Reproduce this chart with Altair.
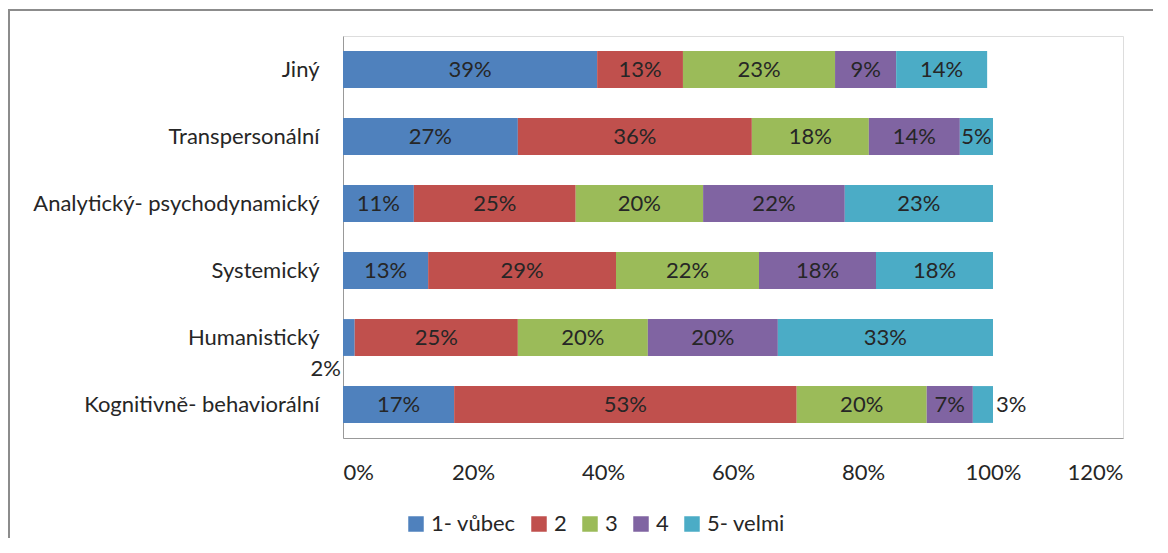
import altair as alt
import pandas as pd

categories = ["Jiný", "Transpersonální", "Analytický- psychodynamický",
              "Systemický", "Humanistický", "Kognitivně- behaviorální"]
series = ["1- vůbec", "2", "3", "4", "5- velmi"]
colors = ["#4F81BD", "#C0504D", "#9BBB59", "#8064A2", "#4BACC6"]

# values per series (percent), one entry per category in the order above
s1 = [39.1, 26.9, 10.9, 13.1, 1.8, 17.1]
s2 = [13.2, 36.0, 24.9, 28.9, 25.1, 52.7]
s3 = [23.4, 18.0, 19.6, 22.0, 20.0, 20.0]
s4 = [9.4, 14.0, 21.8, 18.0, 20.0, 7.1]
s5 = [14.0, 5.1, 22.8, 18.0, 33.1, 3.1]
labels = [
    ["39%", "27%", "11%", "13%", "2%", "17%"],
    ["13%", "36%", "25%", "29%", "25%", "53%"],
    ["23%", "18%", "20%", "22%", "20%", "20%"],
    ["9%", "14%", "22%", "18%", "20%", "7%"],
    ["14%", "5%", "23%", "18%", "33%", "3%"],
]
xticks = [0, 20, 40, 60, 80, 100, 120]

rows = []
allvals = [s1, s2, s3, s4, s5]
for ci, cat in enumerate(categories):
    start = 0.0
    for si, name in enumerate(series):
        v = allvals[si][ci]
        rows.append({
            "cat": cat, "series": name, "order": si,
            "start": start / 100, "end": (start + v) / 100,
            "mid": (start + v / 2) / 100, "label": labels[si][ci],
            "special": (cat == "Humanistický" and si == 0) or (cat == "Kognitivně- behaviorální" and si == 4),
        })
        start += v
df = pd.DataFrame(rows)

FONT = "Lato"
TXT = "#262626"
FS = 22

x_scale = alt.Scale(domain=[0, 1.2], nice=False, zero=True)
y_enc = alt.Y("cat:N", sort=categories, title=None,
              scale=alt.Scale(paddingInner=0.45, paddingOuter=0.225),
              axis=alt.Axis(labelFont=FONT, labelFontSize=FS, labelColor=TXT,
                            labelPadding=24, ticks=False, domainColor="#999999",
                            labelLimit=400))

base = alt.Chart(df)

bars = base.mark_bar().encode(
    x=alt.X("start:Q", scale=x_scale, title=None,
            axis=alt.Axis(values=[t / 100 for t in xticks], format=".0%",
                          labelFont=FONT, labelFontSize=FS, labelColor=TXT,
                          labelPadding=24, ticks=False, grid=False,
                          domainColor="#999999")),
    x2="end:Q",
    y=y_enc,
    color=alt.Color("series:N", sort=series,
                    scale=alt.Scale(domain=series, range=colors),
                    legend=alt.Legend(title=None, orient="none", direction="horizontal",
                                      legendX=62, legendY=477,
                                      labelFont=FONT, labelFontSize=FS, labelColor=TXT,
                                      symbolType="square", symbolSize=240,
                                      symbolStrokeWidth=0, columnPadding=12,
                                      labelOffset=4)),
)

text_main = base.transform_filter("!datum.special").mark_text(
    font=FONT, fontSize=FS, color=TXT).encode(
    x=alt.X("mid:Q", scale=x_scale), y=alt.Y("cat:N", sort=categories), text="label:N")

text_hum = base.transform_filter(
    "datum.special && datum.cat == 'Humanistický'").mark_text(
    font=FONT, fontSize=FS, color=TXT, align="right", dx=-2, dy=31).encode(
    x=alt.X("start:Q", scale=x_scale), y=alt.Y("cat:N", sort=categories), text="label:N")

text_kog = base.transform_filter(
    "datum.special && datum.cat == 'Kognitivně- behaviorální'").mark_text(
    font=FONT, fontSize=FS, color=TXT, align="left", dx=3).encode(
    x=alt.X("end:Q", scale=x_scale), y=alt.Y("cat:N", sort=categories), text="label:N")

frame_top = alt.Chart(pd.DataFrame({"k": [0]})).mark_rule(
    color="#8c8c8c", strokeWidth=2, clip=False).encode(
    x=alt.value(-335), x2=alt.value(830), y=alt.value(-26))
frame_left = alt.Chart(pd.DataFrame({"k": [0]})).mark_rule(
    color="#8c8c8c", strokeWidth=2, clip=False).encode(
    x=alt.value(-334), y=alt.value(-26), y2=alt.value(520))

chart = alt.layer(bars, text_main, text_hum, text_kog, frame_top, frame_left).properties(
    width=780, height=402,
    autosize=alt.AutoSizeParams(type="none"),
    padding={"left": 335, "top": 28, "right": 30, "bottom": 100},
).configure_view(stroke=None).configure(background="white")

chart.save("out.html", embed_options={"renderer": "svg", "actions": False})
